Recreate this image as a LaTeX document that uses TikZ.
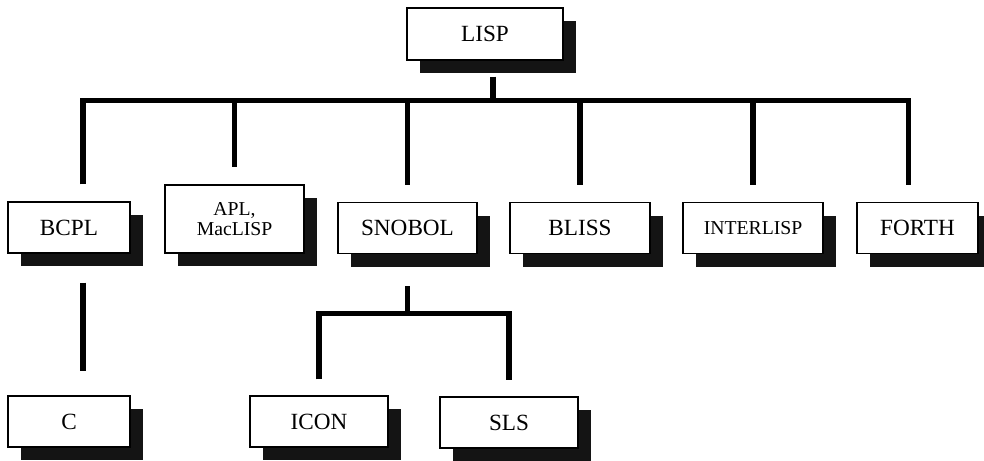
\documentclass[tikz,border=0pt]{standalone}
\usepackage{fontspec}
\setmainfont{Liberation Serif}
\usetikzlibrary{shadows,calc}

\begin{document}
\begin{tikzpicture}[x=0.025cm, y=-0.025cm,
    box/.style={draw=black, line width=0.9pt, fill=white, inner sep=2pt,
        font=\fontsize{16.5}{18}\selectfont,
        drop shadow={shadow xshift=0.33cm, shadow yshift=-0.33cm, fill=black!92, opacity=1}},
    smalltext/.style={font=\fontsize{14}{14.5}\selectfont, align=center},
    link/.style={line width=3.6pt, black}]

    % Fix the page to the reference size
    \useasboundingbox (0,0) rectangle (984,460);

    % Define box sizes
    \def\bw{3.05cm}
    \def\bh{1.27cm}

    % Top level
    \node[box, minimum width=3.9cm, minimum height=1.3cm] (lisp) at (485,34) {LISP};

    % Second level
    \node[box, minimum width=\bw, minimum height=\bh] (bcpl) at (69,227.5) {BCPL};
    \node[box, smalltext, minimum width=3.47cm, minimum height=1.7cm] (apl) at (234.5,219) {APL,\\MacLISP};
    \node[box, minimum width=3.47cm, minimum height=\bh] (snobol) at (407.5,228) {SNOBOL};
    \node[box, minimum width=3.5cm, minimum height=\bh] (bliss) at (580,228) {BLISS};
    \node[box, smalltext, minimum width=3.5cm, minimum height=\bh] (interlisp) at (753,228) {INTERLISP};
    \node[box, minimum width=3.02cm, minimum height=\bh] (forth) at (917.5,228) {FORTH};

    % Third level
    \node[box, minimum width=\bw, minimum height=\bh] (c) at (69,421.5) {C};
    \node[box, minimum width=3.45cm, minimum height=\bh] (icon) at (319,421.5) {ICON};
    \node[box, minimum width=3.45cm, minimum height=\bh] (sls) at (509,422.5) {SLS};

    % Stub below LISP and the long bar
    \draw[link] ($(lisp.south)+(8,16)$) -- ++(0,24) coordinate (hub);
    \draw[link] ($(bcpl.north)+(14,-17)$) -- ($(hub -| bcpl.north)+(14,0)$)
        -- ($(hub -| forth.north)+(-9,0)$) -- ($(forth.north)+(-9,-17)$);

    % Drops to the middle children
    \foreach \n in {apl, snobol, bliss, interlisp}
        \draw[link] (hub -| \n.north) -- ($(\n.north)+(0,-17)$);

    % BCPL down to C
    \draw[link] ($(bcpl.south)+(14,29)$) -- ($(c.north)+(14,-24)$);

    % SNOBOL down to ICON and SLS
    \draw[link] ($(snobol.south)+(0,32)$) -- ++(0,27) coordinate (hub2);
    \draw[link] ($(icon.north)+(0,-16)$) -- (icon.north |- hub2)
        -- (sls.north |- hub2) -- ($(sls.north)+(0,-16)$);

\end{tikzpicture}
\end{document}
